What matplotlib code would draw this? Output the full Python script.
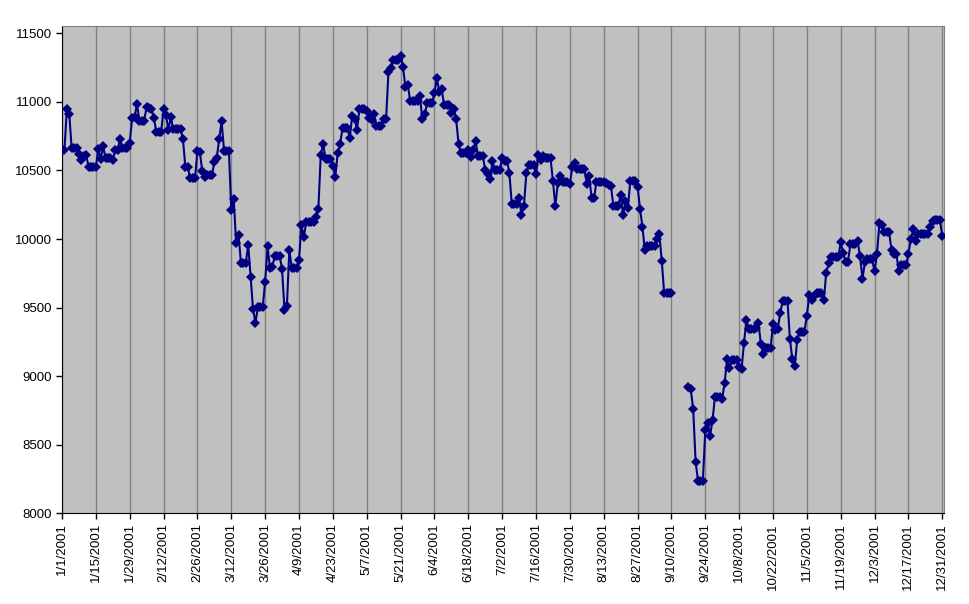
import matplotlib.pyplot as plt
import numpy as np
import pandas as pd

# Daily closes for 2001 (trading days)
jan_days = [1, 2, 3, 4, 5, 8, 9, 10, 11, 12, 16, 17, 18, 19, 22, 23, 24, 25, 26, 29, 30, 31]
jan_vals = [10646, 10646, 10946, 10912, 10662, 10621, 10573, 10604, 10610, 10525, 10653, 10584,
            10678, 10588, 10578, 10650, 10647, 10730, 10660, 10702, 10881, 10887]
feb_days = [1, 2, 5, 6, 7, 8, 9, 12, 13, 14, 15, 16, 20, 21, 22, 23, 26, 27, 28]
feb_vals = [10984, 10864, 10966, 10957, 10947, 10881, 10781, 10947, 10903, 10795, 10891, 10800,
            10731, 10527, 10527, 10442, 10643, 10637, 10495]
mar_days = [1, 2, 5, 6, 7, 8, 9, 12, 13, 14, 15, 16, 19, 20, 21, 22, 23, 26, 27, 28, 29, 30]
mar_vals = [10450, 10466, 10562, 10591, 10730, 10858, 10645, 10208, 10291, 9973, 10031, 9823,
            9959, 9721, 9487, 9389, 9505, 9688, 9948, 9785, 9799, 9879]
apr_days = [2, 3, 4, 5, 6, 9, 10, 11, 12, 16, 17, 18, 19, 20, 23, 24, 25, 26, 27, 30]
apr_vals = [9778, 9486, 9515, 9918, 9791, 9845, 10103, 10013, 10127, 10159, 10217, 10616,
            10693, 10580, 10532, 10454, 10625, 10692, 10810, 10735]
may_days = [1, 2, 3, 4, 7, 8, 9, 10, 11, 14, 15, 16, 17, 18, 21, 22, 23, 24, 25, 29, 30, 31]
may_vals = [10898, 10877, 10797, 10951, 10935, 10884, 10867, 10910, 10821, 10877, 10873, 11216,
            11249, 11302, 11338, 11257, 11106, 11122, 11005, 11045, 10873, 10912]
jun_days = [1, 4, 5, 6, 7, 8, 11, 12, 13, 14, 15, 18, 19, 20, 21, 22, 25, 26, 27, 28, 29]
jun_vals = [10990, 11062, 11176, 11070, 11091, 10977, 10922, 10948, 10872, 10690, 10624, 10646,
            10596, 10646, 10715, 10605, 10504, 10472, 10435, 10566, 10502]
jul_days = [2, 3, 5, 6, 9, 10, 11, 12, 13, 16, 17, 18, 19, 20, 23, 24, 25, 26, 27, 30, 31]
jul_vals = [10593, 10571, 10480, 10253, 10299, 10176, 10241, 10479, 10539, 10472, 10610, 10577,
            10605, 10590, 10424, 10240, 10406, 10456, 10417, 10401, 10523]
aug_days = [1, 2, 3, 6, 7, 8, 9, 10, 13, 14, 15, 16, 17, 20, 21, 22, 23, 24, 27, 28, 29, 30, 31]
aug_vals = [10551, 10510, 10513, 10401, 10458, 10298, 10300, 10416, 10415, 10405, 10392, 10385,
            10241, 10320, 10174, 10277, 10229, 10423, 10382, 10222, 10091, 9920, 9950]
sep_days = [4, 5, 6, 7, 10, 17, 18, 19, 20, 21, 24, 25, 26, 27, 28]
sep_vals = [9997, 10033, 9841, 9606, 9606, 8921, 8903, 8759, 8376, 8236, 8604, 8660,
            8567, 8681, 8848]
oct_days = [1, 2, 3, 4, 5, 8, 9, 10, 11, 12, 15, 16, 17, 18, 19, 22, 23, 24, 25, 26, 29, 30, 31]
oct_vals = [8837, 8951, 9124, 9061, 9120, 9068, 9052, 9241, 9410, 9344, 9348, 9384, 9233,
            9163, 9204, 9377, 9340, 9346, 9463, 9545, 9270, 9122, 9075]
nov_days = [1, 2, 5, 6, 7, 8, 9, 12, 13, 14, 15, 16, 19, 20, 21, 23, 26, 27, 28, 29, 30]
nov_vals = [9264, 9324, 9441, 9591, 9554, 9588, 9608, 9554, 9751, 9824, 9872, 9867, 9976,
            9901, 9835, 9960, 9983, 9873, 9712, 9829, 9852]
dec_days = [3, 4, 5, 6, 7, 10, 11, 12, 13, 14, 17, 18, 19, 20, 21, 24, 26, 27, 28, 31]
dec_vals = [9764, 9894, 10114, 10100, 10049, 9921, 9888, 9894, 9766, 9811, 9892, 9998, 10070,
            9985, 10035, 10035, 10088, 10131, 10137, 10022]

# market closed, no points drawn
closed_start = "2001-09-11"
closed_end = "2001-09-16"

months = [(jan_days, jan_vals), (feb_days, feb_vals), (mar_days, mar_vals), (apr_days, apr_vals),
          (may_days, may_vals), (jun_days, jun_vals), (jul_days, jul_vals), (aug_days, aug_vals),
          (sep_days, sep_vals), (oct_days, oct_vals), (nov_days, nov_vals), (dec_days, dec_vals)]

idx = []
vals = []
for m, (days, v) in enumerate(months, start=1):
    idx += [pd.Timestamp(2001, m, d) for d in days]
    vals += v
trading = pd.Series(vals, index=idx)

# chart shows every calendar day, non-trading days carry the last close
cal = pd.date_range("2001-01-01", "2001-12-31", freq="D")
daily = trading.reindex(cal).ffill()
daily[closed_start:closed_end] = np.nan

fig = plt.figure(figsize=(9.7, 6.04), dpi=100)
ax = fig.add_axes([62 / 970, 1 - 513.3 / 604, (944 - 62) / 970, (513.3 - 26.3) / 604])
ax.set_facecolor("#C0C0C0")

ax.plot(daily.index, daily.values, color="#000080", lw=1.5, marker="D", ms=5.5,
        markeredgewidth=0, zorder=3)

ticks = pd.date_range("2001-01-01", periods=27, freq="14D")
ax.set_xticks(ticks)
ax.set_xticklabels([f"{t.month}/{t.day}/2001" for t in ticks], rotation=90,
                   fontsize=9.5, family="Liberation Sans")
ax.set_xlim(pd.Timestamp("2001-01-01"), pd.Timestamp("2001-12-31") + pd.Timedelta(hours=17))
ax.set_ylim(8000, 11551)
ax.set_yticks(np.arange(8000, 11501, 500))
ax.set_yticklabels([str(v) for v in range(8000, 11501, 500)], fontsize=9.5, family="Liberation Sans")

ax.grid(axis="x", color="#808080", lw=1)
ax.set_axisbelow(True)
ax.tick_params(axis="both", length=4, width=1, color="black", pad=3)

for s in ["top", "right"]:
    ax.spines[s].set_color("#808080")
for s in ["left", "bottom"]:
    ax.spines[s].set_color("black")

fig.savefig("out.png", dpi=100)
